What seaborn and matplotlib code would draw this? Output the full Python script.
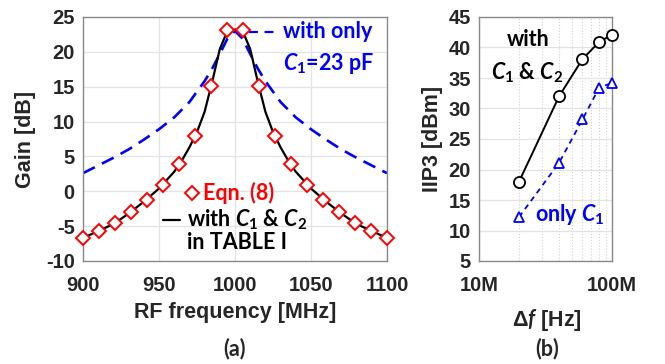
import matplotlib
matplotlib.use("Agg")
import matplotlib.pyplot as plt
import matplotlib.ticker as mticker
import numpy as np
import pandas as pd
import seaborn as sns

# ---------------- data ----------------
# (a) Gain vs RF frequency
freq_eqn = [900, 910.5, 921.1, 931.6, 942.1, 952.6, 963.2, 973.7, 984.2, 994.7,
            1005.3, 1015.8, 1026.3, 1036.8, 1047.4, 1057.9, 1068.4, 1078.9, 1089.5, 1100]
gain_eqn = [-6.7, -5.65, -4.6, -3.0, -1.2, 0.9, 3.85, 8.0, 15.1, 23.1,
            23.1, 15.1, 8.0, 3.85, 0.9, -1.2, -3.0, -4.6, -5.65, -6.7]

freq_c1c2 = [900, 910, 920, 930, 940, 950, 960, 965, 970, 975, 980, 985, 990, 995, 1000,
             1005, 1010, 1015, 1020, 1025, 1030, 1035, 1040, 1050, 1060, 1070, 1080, 1090, 1100]
gain_c1c2 = [-6.7, -5.7, -4.7, -3.2, -1.5, 0.4, 2.8, 4.4, 6.3, 8.5, 11.4, 15.7, 20.4, 23.0, 23.2,
             23.0, 20.4, 15.7, 11.4, 8.5, 6.3, 4.4, 2.8, 0.4, -1.5, -3.2, -4.7, -5.7, -6.7]

freq_c1 = [900, 910, 920, 930, 940, 950, 960, 970, 980, 985, 990, 995, 1000,
           1005, 1010, 1015, 1020, 1030, 1040, 1050, 1060, 1070, 1080, 1090, 1100]
gain_c1 = [2.6, 3.7, 4.8, 6.0, 7.4, 8.9, 10.6, 12.8, 15.8, 17.6, 19.7, 21.9, 23.0,
           21.9, 19.7, 17.6, 15.8, 12.8, 10.6, 8.9, 7.4, 6.0, 4.8, 3.7, 2.6]

# (b) IIP3 vs delta f
delta_f = [20e6, 40e6, 60e6, 80e6, 100e6]
iip3_c1c2 = [18.0, 32.0, 38.1, 40.9, 42.1]
iip3_c1 = [12.2, 21.1, 28.2, 33.4, 34.2]

x_ticks_a = [900, 950, 1000, 1050, 1100]
y_ticks_a = [-10, -5, 0, 5, 10, 15, 20, 25]
x_ticks_b = [1e7, 1e8]
x_ticklabels_b = ["10M", "100M"]
y_ticks_b = [5, 10, 15, 20, 25, 30, 35, 40, 45]

# ---------------- style ----------------
sns.set_style("white")
plt.rcParams["font.family"] = ["Liberation Sans", "DejaVu Sans"]
plt.rcParams["mathtext.fontset"] = "custom"
plt.rcParams["mathtext.it"] = "Lato:italic:bold"
plt.rcParams["mathtext.rm"] = "Lato:bold"
plt.rcParams["mathtext.bf"] = "Lato:bold"

RED = "#ff0000"
BLUE = "#0000ff"
GRID = "#e3e3e3"
SPINE = "#8a8a8a"
TXT = "#262626"
TICKFS = 14.5
LABFS = 15.5
LEGFS = 15.5

fig = plt.figure(figsize=(6.65, 3.64), dpi=100)
W, H = 665, 364
ax1 = fig.add_axes([83 / W, 103 / H, 304 / W, 244 / H])
ax2 = fig.add_axes([479 / W, 103 / H, 133 / W, 244 / H])

# ---------------- panel (a) ----------------
df_c1 = pd.DataFrame({"f": freq_c1, "g": gain_c1})
df_c1c2 = pd.DataFrame({"f": freq_c1c2, "g": gain_c1c2})
df_eqn = pd.DataFrame({"f": freq_eqn, "g": gain_eqn})

sns.lineplot(data=df_c1, x="f", y="g", ax=ax1, color=BLUE, lw=1.9,
             linestyle=(0, (5, 3)), zorder=2)
sns.lineplot(data=df_c1c2, x="f", y="g", ax=ax1, color="black", lw=1.6, zorder=3)
sns.lineplot(data=df_eqn, x="f", y="g", ax=ax1, linestyle="", marker="D",
             markersize=7, markerfacecolor="white", markeredgecolor=RED,
             markeredgewidth=1.4, color=RED, clip_on=False, zorder=4)

ax1.set_xlim(900, 1100)
ax1.set_ylim(-10, 25)
ax1.set_xticks(x_ticks_a)
ax1.set_yticks(y_ticks_a)
ax1.set_xticklabels([str(v) for v in x_ticks_a])
ax1.set_yticklabels([str(v) for v in y_ticks_a])
ax1.grid(True, color=GRID, lw=0.9)
ax1.set_axisbelow(True)
ax1.set_xlabel("RF frequency [MHz]", fontsize=LABFS, color=TXT, weight="bold")
ax1.set_ylabel("Gain [dB]", fontsize=LABFS, color=TXT, weight="bold")
ax1.xaxis.set_label_coords(0.5, -0.213)
ax1.xaxis.label.set_va("center")
ax1.yaxis.set_label_coords(-0.19, 0.5)
ax1.yaxis.label.set_va("center")

# legend-like annotations (a)
ax1.plot([0.359], [0.279], transform=ax1.transAxes, marker="D", markersize=7,
         markerfacecolor="white", markeredgecolor=RED, markeredgewidth=1.4,
         linestyle="", clip_on=False)
ax1.text(0.395, 0.279, "Eqn. (8)", transform=ax1.transAxes, color=RED,
         fontsize=LEGFS, family="Lato", weight="bold", ha="left", va="center")
ax1.plot([0.262, 0.319], [0.168, 0.168], transform=ax1.transAxes, color="black",
         lw=1.6, clip_on=False)
ax1.text(0.342, 0.168, "with $C_1$ & $C_2$", transform=ax1.transAxes,
         color="black", fontsize=LEGFS, family="Lato", weight="bold",
         ha="left", va="center")
ax1.text(0.342, 0.074, "in TABLE I", transform=ax1.transAxes, color="black",
         fontsize=LEGFS, family="Lato", weight="bold", ha="left", va="center")
ax1.plot([0.545, 0.648], [0.939, 0.939], transform=ax1.transAxes, color=BLUE,
         lw=1.6, linestyle=(0, (4, 3)), clip_on=False)
ax1.text(0.658, 0.939, "with only", transform=ax1.transAxes, color=BLUE,
         fontsize=LEGFS, family="Lato", weight="bold", ha="left", va="center")
ax1.text(0.658, 0.811, "$C_1$=23 pF", transform=ax1.transAxes, color=BLUE,
         fontsize=LEGFS, family="Lato", weight="bold", ha="left", va="center")
ax1.text(0.5, -0.357, "(a)", transform=ax1.transAxes, color=TXT,
         fontsize=LEGFS, family="Lato", weight="bold", ha="center", va="center")

# ---------------- panel (b) ----------------
ax2.set_xscale("log")
df_b = pd.DataFrame({"df": delta_f, "c1c2": iip3_c1c2, "c1": iip3_c1})
sns.lineplot(data=df_b, x="df", y="c1c2", ax=ax2, color="black", lw=1.4,
             marker="o", markersize=8, markerfacecolor="white",
             markeredgecolor="black", markeredgewidth=1.3, clip_on=False, zorder=3)
sns.lineplot(data=df_b, x="df", y="c1", ax=ax2, color=BLUE, lw=1.3,
             linestyle=(0, (3, 2.5)), marker="^", markersize=7.5,
             markerfacecolor="white", markeredgecolor=BLUE, markeredgewidth=1.3,
             clip_on=False, zorder=3)

ax2.set_xlim(1e7, 1e8)
ax2.set_ylim(5, 45)
ax2.set_xticks(x_ticks_b)
ax2.set_xticklabels(x_ticklabels_b)
ax2.xaxis.set_minor_locator(mticker.LogLocator(base=10, subs=np.arange(2, 10)))
ax2.xaxis.set_minor_formatter(mticker.NullFormatter())
ax2.yaxis.set_minor_locator(mticker.NullLocator())
ax2.set_yticks(y_ticks_b)
ax2.set_yticklabels([str(v) for v in y_ticks_b])
ax2.grid(True, which="major", color=GRID, lw=0.9)
ax2.grid(True, which="minor", axis="x", color="#d0d0d0", lw=0.8, linestyle=":")
ax2.set_axisbelow(True)
ax2.set_xlabel("Δ$f$ [Hz]", fontsize=LABFS, color=TXT, weight="bold")
ax2.set_ylabel("IIP3 [dBm]", fontsize=LABFS, color=TXT, weight="bold")
ax2.xaxis.set_label_coords(0.51, -0.242)
ax2.xaxis.label.set_va("center")
ax2.yaxis.set_label_coords(-0.346, 0.5)
ax2.yaxis.label.set_va("center")

ax2.text(0.368, 0.906, "with", transform=ax2.transAxes, color="black",
         fontsize=LEGFS, family="Lato", weight="bold", ha="center", va="center")
ax2.text(0.361, 0.770, "$C_1$ & $C_2$", transform=ax2.transAxes, color="black",
         fontsize=LEGFS, family="Lato", weight="bold", ha="center", va="center")
ax2.text(0.421, 0.189, "only $C_1$", transform=ax2.transAxes, color=BLUE,
         fontsize=LEGFS, family="Lato", weight="bold", ha="left", va="center")
ax2.text(0.51, -0.357, "(b)", transform=ax2.transAxes, color=TXT,
         fontsize=LEGFS, family="Lato", weight="bold", ha="center", va="center")

for ax in (ax1, ax2):
    for s in ax.spines.values():
        s.set_color(SPINE)
        s.set_linewidth(1.0)
    ax.tick_params(axis="both", which="both", direction="in", length=0,
                   colors=TXT, labelsize=TICKFS)
    ax.tick_params(axis="y", pad=6)
    ax.tick_params(axis="x", pad=11)
    for lab in ax.get_xticklabels() + ax.get_yticklabels():
        lab.set_fontweight("bold")

fig.savefig("out.png", dpi=100, facecolor="white")
